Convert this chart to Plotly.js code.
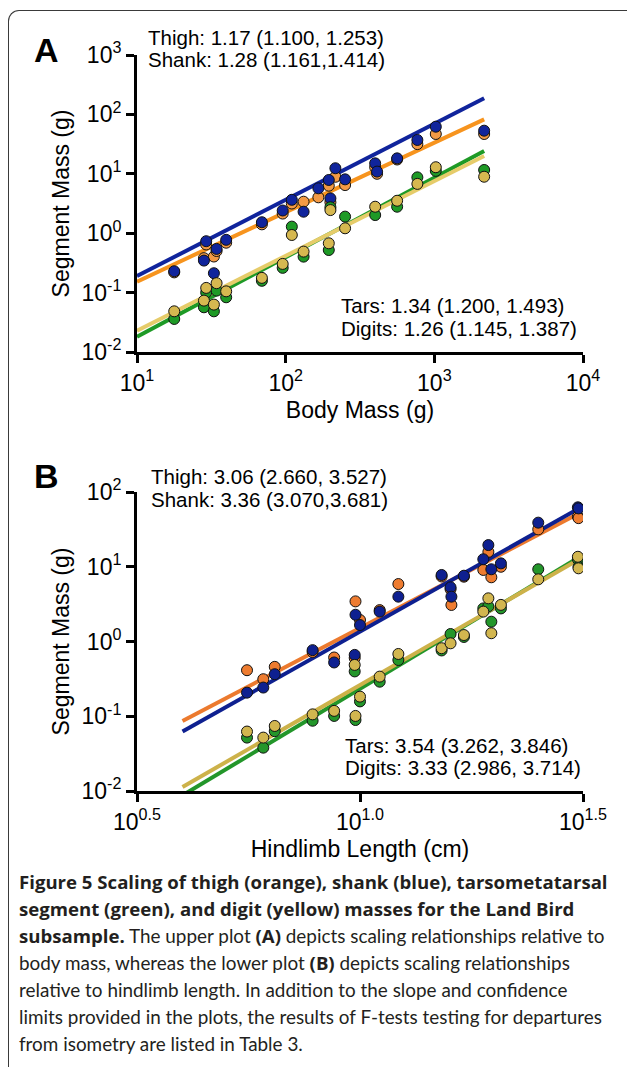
<!DOCTYPE html>
<html>
<head>
<meta charset="utf-8">
<script src="https://cdn.plot.ly/plotly-3.0.1.min.js"></script>
<style>
  html, body { margin: 0; padding: 0; background: #fff; }
  #wrap { position: relative; width: 627px; height: 1067px; overflow: hidden; }
  #chart { position: absolute; left: 0; top: 0; width: 627px; height: 1067px; }
  #frame { position: absolute; left: 8px; top: 10px; width: 640px; height: 1100px;
           border-top: 1.5px solid #3a3a3a; border-left: 1.5px solid #3a3a3a;
           border-top-left-radius: 11px; pointer-events: none; }
</style>
</head>
<body>
<div id="wrap">
  <div id="chart"></div>
  <div id="frame"></div>
</div>
<script>
// ---------- Panel A: segment mass vs body mass ----------
const bodyMassA = [17.8, 28.2, 29.2, 32.9, 34.3, 39.8, 69.2, 95.5, 110, 132, 166, 195, 200, 216, 251, 400, 412, 562, 769, 1023, 2163];
const thighA  = [0.219, 0.380, 0.646, 0.405, 0.501, 0.692, 1.41, 2.14, 3.16, 3.39, 4.02, 6.31, 3.31, 8.91, 6.46, 12.9, 10.0, 17.4, 31.6, 46.8, 46.8];
const shankA  = [0.229, 0.346, 0.733, 0.212, 0.544, 0.773, 1.53, 2.41, 3.65, 2.30, 5.70, 7.87, 3.86, 12.4, 8.07, 15.0, 10.9, 18.2, 37.1, 62.1, 53.2];
const tarsA   = [0.036, 0.0566, 0.100, 0.0484, 0.108, 0.0834, 0.158, 0.261, 1.29, 0.403, null, 0.521, 2.73, null, 1.90, 2.02, null, 2.79, 8.71, 11.2, 11.6];
const digitsA = [0.0484, 0.0733, 0.120, 0.0628, 0.144, 0.105, 0.177, 0.304, 0.933, 0.490, null, 0.676, 2.45, null, 1.21, 2.79, null, 3.52, 6.76, 12.9, 8.93];
// fitted lines (end points)
const fitXA       = [10, 2163];
const fitThighA   = [0.153, 82.6];
const fitShankA   = [0.190, 187];
const fitTarsA    = [0.018, 24.2];
const fitDigitsA  = [0.0228, 20.0];

// ---------- Panel B: segment mass vs hindlimb length ----------
const limbB   = [5.58, 6.07, 6.44, 7.83, 8.75, 9.73, 9.77, 10.0, 11.07, 12.19, 15.24, 15.96, 16.03, 17.1, 18.9, 19.4, 19.7, 20.7, 25.1, 30.8, 30.9];
const thighB  = [0.413, 0.313, 0.458, 0.724, 0.611, 0.603, 3.44, 1.94, 2.63, 5.87, 7.41, 5.01, 3.08, 7.36, 9.06, 15.8, 7.23, 10.0, 31.6, 46.8, 44.7];
const shankB  = [0.207, 0.242, 0.365, 0.766, 0.524, 0.662, 2.28, 1.66, 2.51, 3.98, 7.76, 5.31, 3.98, 7.59, 12.6, 19.5, 9.25, 11.1, 38.9, 62.4, 60.3];
const tarsB   = [0.0518, 0.0380, 0.0631, 0.0871, 0.101, 0.398, 0.0891, 0.158, 0.290, 0.565, 0.759, 1.26, null, 1.15, 2.77, 2.95, 1.84, 2.77, 9.25, 12.6, 10.0];
const digitsB = [0.0624, 0.0518, 0.0741, 0.106, 0.118, 0.486, 0.101, 0.183, 0.339, 0.681, 0.813, 0.946, null, 1.22, 2.51, 3.78, 1.29, 3.09, 6.79, 13.6, 9.53];
const fitXB       = [4.0, 31.0];
const fitThighB   = [0.0866, 51.9];
const fitShankB   = [0.0624, 60.5];
const fitTarsB    = [0.00875, 13.4];
const fitDigitsB  = [0.01132, 12.6];

// tick labels (exponents)
const tickValsAx = [10, 100, 1000, 10000];
const tickExpAx  = ['1', '2', '3', '4'];
const tickValsAy = [0.01, 0.1, 1, 10, 100, 1000];
const tickExpAy  = ['-2', '-1', '0', '1', '2', '3'];
const tickValsBx = [3.16228, 10, 31.6228];
const tickExpBx  = ['0.5', '1.0', '1.5'];
const tickValsBy = [0.01, 0.1, 1, 10, 100];
const tickExpBy  = ['-2', '-1', '0', '1', '2'];

// ---------- styling ----------
const W = 627, H = 1067;
const FONT = 'Liberation Sans, Arial, Helvetica, sans-serif';
const TICK_SIZE = 23;
const colA = {thigh: '#F7941E', thighPt: '#F39A45', shank: '#10249C', tars: '#1E9A26', digits: '#E6CC6A', digitsPt: '#D6B850'};
const colB = {thigh: '#EC7A2E', thighPt: '#EE7C30', shank: '#0E2090', tars: '#23962A', digits: '#CDB24A', digitsPt: '#D2B64F'};

function pow10Label(e) {
  return '<span style="font-size:' + TICK_SIZE + 'px">10</span><sup>' + e + '</sup>';
}
function px2paperX(px) { return px / W; }
function px2paperY(py) { return 1 - py / H; }

function lineTrace(x, y, color, xa, ya) {
  return {x: x, y: y, mode: 'lines', type: 'scatter', xaxis: xa, yaxis: ya,
          line: {color: color, width: 4}, hoverinfo: 'skip', showlegend: false};
}
function ptTrace(x, y, color, xa, ya) {
  return {x: x, y: y, mode: 'markers', type: 'scatter', xaxis: xa, yaxis: ya,
          marker: {color: color, size: 11, line: {color: '#111', width: 1}},
          hoverinfo: 'skip', showlegend: false};
}

const traces = [
  // panel A
  lineTrace(fitXA, fitThighA, colA.thigh, 'x', 'y'),
  lineTrace(fitXA, fitShankA, colA.shank, 'x', 'y'),
  lineTrace(fitXA, fitTarsA, colA.tars, 'x', 'y'),
  lineTrace(fitXA, fitDigitsA, colA.digits, 'x', 'y'),
  ptTrace(bodyMassA, thighA, colA.thighPt, 'x', 'y'),
  ptTrace(bodyMassA, shankA, colA.shank, 'x', 'y'),
  ptTrace(bodyMassA, tarsA, colA.tars, 'x', 'y'),
  ptTrace(bodyMassA, digitsA, colA.digitsPt, 'x', 'y'),
  // panel B
  lineTrace(fitXB, fitThighB, colB.thigh, 'x2', 'y2'),
  lineTrace(fitXB, fitShankB, colB.shank, 'x2', 'y2'),
  lineTrace(fitXB, fitTarsB, colB.tars, 'x2', 'y2'),
  lineTrace(fitXB, fitDigitsB, colB.digits, 'x2', 'y2'),
  ptTrace(limbB, thighB, colB.thighPt, 'x2', 'y2'),
  ptTrace(limbB, shankB, colB.shank, 'x2', 'y2'),
  ptTrace(limbB, tarsB, colB.tars, 'x2', 'y2'),
  ptTrace(limbB, digitsB, colB.digitsPt, 'x2', 'y2')
];

function axisBase(extra) {
  return Object.assign({
    type: 'log', showgrid: false, zeroline: false, showline: true,
    linecolor: '#000', linewidth: 3, ticks: 'outside', ticklen: 8, tickwidth: 3,
    tickcolor: '#000', tickmode: 'array', automargin: false, fixedrange: true,
    tickfont: {family: FONT, size: TICK_SIZE, color: '#000'}
  }, extra);
}

const xDom = [px2paperX(137), px2paperX(583)];
const layout = {
  width: W, height: H,
  margin: {l: 0, r: 0, t: 0, b: 0},
  paper_bgcolor: '#fff', plot_bgcolor: 'rgba(0,0,0,0)',
  showlegend: false,
  font: {family: FONT, color: '#000', size: 20},
  xaxis: axisBase({domain: xDom, anchor: 'y', range: [1, 4], tickvals: tickValsAx, ticktext: tickExpAx.map(pow10Label),
                   title: {text: 'Body Mass (g)', font: {family: FONT, size: 23}, standoff: 8}}),
  yaxis: axisBase({domain: [px2paperY(352), px2paperY(55)], anchor: 'x', range: [-2, 3], tickvals: tickValsAy, ticktext: tickExpAy.map(pow10Label),
                   title: {text: 'Segment Mass (g)', font: {family: FONT, size: 23}, standoff: 6}}),
  xaxis2: axisBase({domain: xDom, anchor: 'y2', range: [0.5, 1.5], tickvals: tickValsBx, ticktext: tickExpBx.map(pow10Label),
                   title: {text: 'Hindlimb Length (cm)', font: {family: FONT, size: 23}, standoff: 8}}),
  yaxis2: axisBase({domain: [px2paperY(791), px2paperY(492)], anchor: 'x2', range: [-2, 2], tickvals: tickValsBy, ticktext: tickExpBy.map(pow10Label),
                   title: {text: 'Segment Mass (g)', font: {family: FONT, size: 23}, standoff: 6}}),
  annotations: []
};

function note(text, pxX, pxY, size, opts) {
  layout.annotations.push(Object.assign({
    text: text, xref: 'paper', yref: 'paper', x: px2paperX(pxX), y: px2paperY(pxY),
    xanchor: 'left', yanchor: 'middle', showarrow: false, align: 'left', borderpad: 0,
    font: {family: FONT, size: size, color: '#000'}
  }, opts || {}));
}

// panel letters
note('<b>A</b>', 33, 50, 34);
note('<b>B</b>', 33, 476, 34);
// slope statistics
const STAT = 20.5;
note('Thigh: 1.17 (1.100, 1.253)', 147, 37, STAT);
note('Shank: 1.28 (1.161,1.414)', 147, 60, STAT);
note('Tars: 1.34 (1.200, 1.493)', 340, 305, STAT);
note('Digits: 1.26 (1.145, 1.387)', 340, 328, STAT);
note('Thigh: 3.06 (2.660, 3.527)', 150, 477, STAT);
note('Shank: 3.36 (3.070,3.681)', 150, 500, STAT);
note('Tars: 3.54 (3.262, 3.846)', 344, 745, STAT);
note('Digits: 3.33 (2.986, 3.714)', 344, 767, STAT);

// caption
const CAP_FONT = 'Lato, Open Sans, sans-serif';
const CAP_SIZE = 18.9;
function capB(t) { return '<b><span style="font-family:Open Sans;font-size:18.6px">' + t + '</span></b>'; }
const captionLines = [
  capB('Figure 5 Scaling of thigh (orange), shank (blue), tarsometatarsal'),
  capB('segment (green), and digit (yellow) masses for the Land Bird'),
  capB('subsample.') + ' The upper plot ' + capB('(A)') + ' depicts scaling relationships relative to',
  'body mass, whereas the lower plot ' + capB('(B)') + ' depicts scaling relationships',
  'relative to hindlimb length. In addition to the slope and confidence',
  'limits provided in the plots, the results of F-tests testing for departures',
  'from isometry are listed in Table 3.'
];
captionLines.forEach(function (t, i) {
  note(t, 18, 881 + i * 27, CAP_SIZE, {font: {family: CAP_FONT, size: CAP_SIZE, color: '#231F20'}});
});

Plotly.newPlot('chart', traces, layout, {displayModeBar: false, staticPlot: true});
</script>
</body>
</html>
